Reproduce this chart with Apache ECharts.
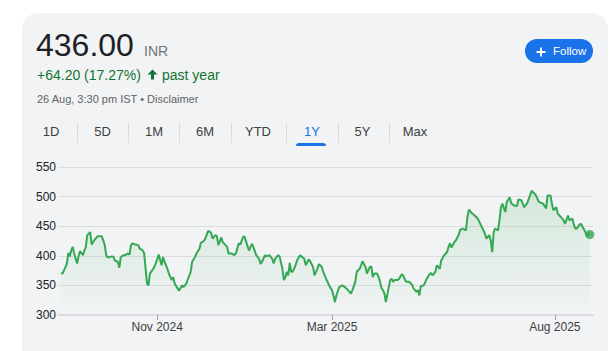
<!DOCTYPE html>
<html><head><meta charset="utf-8">
<script src="https://cdn.jsdelivr.net/npm/echarts@6/dist/echarts.min.js"></script>
<style>
html,body{margin:0;padding:0;background:#fff;width:615px;height:351px;overflow:hidden;font-family:"Liberation Sans",Arial,sans-serif;}
#card{position:absolute;left:22px;top:13px;width:586px;height:360px;background:#f1f3f4;border-radius:16px;}
.t{position:absolute;white-space:nowrap;}
.tab{position:absolute;top:125px;width:40px;text-align:center;font-size:13px;line-height:13px;color:#3c4043;}
.sep{position:absolute;top:123px;width:1px;height:20px;background:#dadce0;}
#chart{position:absolute;left:0;top:0;width:615px;height:351px;}
</style></head>
<body>
<div id="card"></div>
<div class="t" style="left:36px;top:29px;font-size:32px;line-height:32px;color:#202124;">436.00</div>
<div class="t" style="left:144px;top:44px;font-size:14px;line-height:14px;color:#70757a;">INR</div>
<div class="t" style="left:37px;top:67.5px;font-size:14px;line-height:14px;color:#137333;">+64.20 (17.27%)</div>
<svg class="t" style="left:146.5px;top:68.5px;" width="11" height="11" viewBox="0 0 22 22"><path fill="#137333" d="M11 1 L21 11 H14 V21 H8 V11 H1 Z"/></svg>
<div class="t" style="left:162px;top:67.5px;font-size:14px;line-height:14px;color:#137333;">past year</div>
<div class="t" style="left:37px;top:94px;font-size:11px;line-height:11px;color:#5f6368;">26 Aug, 3:30 pm IST • Disclaimer</div>
<div class="t" style="left:525px;top:39px;width:68px;height:24px;border-radius:12px;background:#1a73e8;"></div>
<svg class="t" style="left:536px;top:46.5px;" width="10" height="10" viewBox="0 0 10 10"><path d="M5 0.5V9.5M0.5 5H9.5" stroke="#fff" stroke-width="1.8"/></svg>
<div class="t" style="left:553px;top:46px;font-size:11.5px;line-height:11.5px;color:#fff;">Follow</div>
<div class="tab" style="left:31px;">1D</div>
<div class="tab" style="left:82.5px;">5D</div>
<div class="tab" style="left:134px;">1M</div>
<div class="tab" style="left:185px;">6M</div>
<div class="tab" style="left:238px;">YTD</div>
<div class="tab" style="left:292px;color:#1a73e8;">1Y</div>
<div class="tab" style="left:342.5px;">5Y</div>
<div class="tab" style="left:395px;">Max</div>
<div class="sep" style="left:77px;"></div>
<div class="sep" style="left:128px;"></div>
<div class="sep" style="left:179px;"></div>
<div class="sep" style="left:231px;"></div>
<div class="sep" style="left:286px;"></div>
<div class="sep" style="left:338px;"></div>
<div class="sep" style="left:389px;"></div>
<div class="t" style="left:296px;top:143px;width:30px;height:3px;border-radius:3px 3px 0 0;background:#1a73e8;"></div>
<div id="chart"></div>
<script>
// Days since 27 Aug 2024
const days = [0,1,3,4,5,6,7,8,9,11,12,13,15,16,17,18,20,21,23,25,28,30,31,32,35,36,37,39,40,41,43,44,46,47,48,49,51,53,54,56,57,59,60,61,63,64,66,67,69,70,71,73,74,76,77,78,80,81,83,84,86,87,89,90,92,93,95,96,98,99,101,103,104,106,107,108,110,111,114,115,117,119,120,122,123,125,126,129,131,132,134,136,137,138,140,141,143,145,146,147,149,150,152,153,154,155,156,157,158,159,161,162,164,165,167,168,170,171,173,174,176,177,179,180,182,183,184,186,187,188,189,191,193,195,197,199,200,202,203,205,206,207,209,210,211,212,213,214,215,217,218,219,220,221,222,223,225,226,227,228,229,231,232,234,235,236,237,239,241,242,244,245,246,247,249,251,253,254,255,257,258,260,261,263,265,266,267,268,270,271,273,274,276,278,279,280,282,284,286,288,290,291,292,294,295,296,297,298,300,301,302,303,305,306,308,309,311,313,314,316,318,320,322,323,325,326,328,330,331,333,334,336,337,338,340,341,343,345,346,348,349,351,352,353,354,356,357,358,360,361,362,363];
const prices = [371,370,381,387,405,399,409,415,404,387,399,408,401,409,415,435,440,419,427,433,433,418,401,397,399,398,392,390,380,398,401,401,404,402,418,421,419,418,412,409,405,353,350,370,377,381,394,402,384,398,390,378,370,359,364,353,345,341,350,347,353,360,373,390,398,404,412,422,425,429,442,439,429,435,433,418,431,423,415,404,404,401,404,421,419,432,432,409,420,415,401,395,386,390,401,399,401,395,387,395,401,399,378,359,364,373,367,388,373,373,384,392,401,399,395,384,394,391,381,367,378,386,381,373,361,356,350,342,333,322,333,347,350,347,342,336,342,356,373,378,384,391,381,370,376,381,382,364,370,370,364,356,345,342,336,322,347,359,361,356,359,359,361,369,366,360,356,356,351,345,339,342,333,349,350,361,369,371,367,373,384,378,392,401,406,415,421,414,423,426,435,444,446,443,466,478,472,468,463,453,443,437,429,435,426,406,440,446,443,460,482,488,474,491,499,489,485,484,495,494,482,489,502,510,505,502,491,489,488,480,502,502,488,477,482,471,466,460,454,468,460,463,453,446,446,453,454,449,440,433,438,436];
const yTicks = [300,350,400,450,500,550];
const xTickDays = [66,186,339];
const xTickLabels = ['Nov 2024','Mar 2025','Aug 2025'];

const chart = echarts.init(document.getElementById('chart'), null, {renderer:'svg'});
const lineData = days.map((d,i)=>[d,prices[i]]);
const last = lineData[lineData.length-1];
chart.setOption({
  animation:false,
  backgroundColor:'transparent',
  textStyle:{fontFamily:'"Liberation Sans", Arial, sans-serif'},
  grid:{left:58,right:22,top:167,bottom:36,outerBoundsMode:'none'},
  xAxis:{type:'value',min:-2.1,max:365.2,
    axisLine:{show:true,lineStyle:{color:'#dadce0',width:2}},
    axisTick:{show:true,customValues:xTickDays,length:5,lineStyle:{color:'#9aa0a6'}},
    axisLabel:{customValues:xTickDays,color:'#3c4043',fontSize:12,margin:6,
      formatter:(v)=>{const i=xTickDays.findIndex(t=>Math.abs(t-v)<0.5);return i>=0?xTickLabels[i]:'';}},
    splitLine:{show:false}},
  yAxis:{type:'value',min:yTicks[0],max:yTicks[yTicks.length-1],interval:yTicks[1]-yTicks[0],
    axisLine:{show:false},axisTick:{show:false},
    axisLabel:{color:'#202124',fontSize:12,margin:2},
    splitLine:{lineStyle:{color:'#dadce0',width:1}}},
  series:[
    {type:'line',data:lineData,showSymbol:false,lineStyle:{color:'#34a853',width:2},
     areaStyle:{color:{type:'linear',x:0,y:0,x2:0,y2:1,colorStops:[{offset:0,color:'rgba(52,168,83,0.22)'},{offset:1,color:'rgba(52,168,83,0)'}]}}},
    {type:'scatter',data:[last],symbolSize:9,itemStyle:{color:'#34a853'}}
  ]
});
</script>
</body></html>
